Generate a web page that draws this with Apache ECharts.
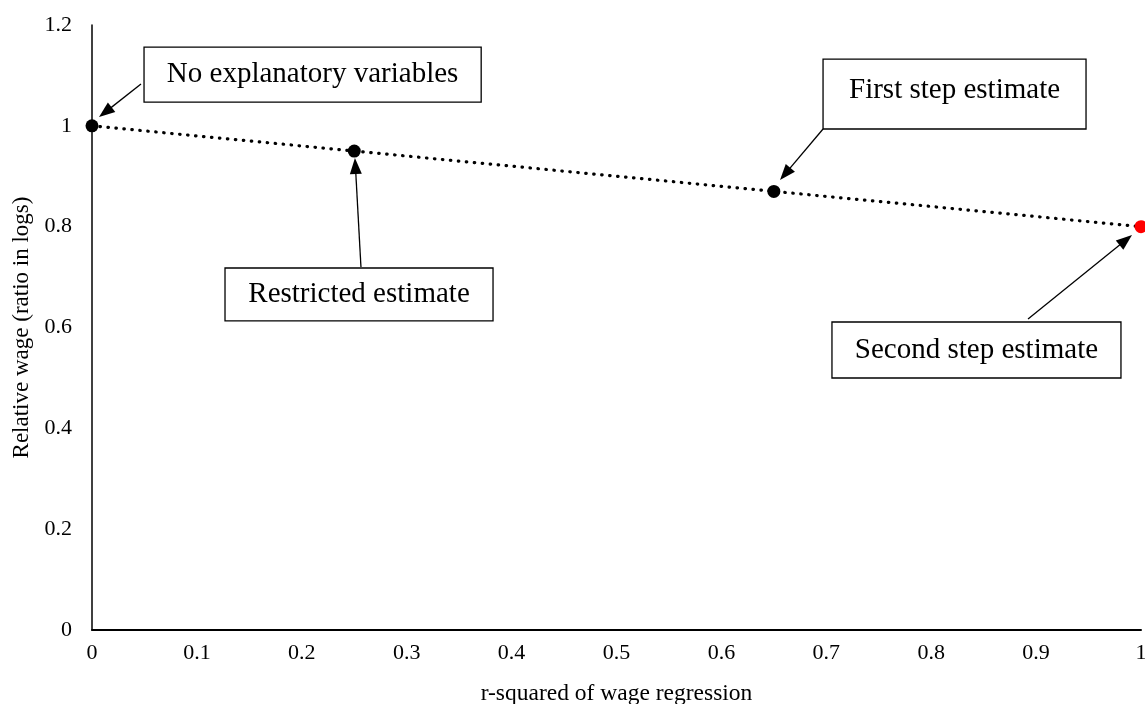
<!DOCTYPE html>
<html>
<head>
<meta charset="utf-8">
<script src="https://cdn.jsdelivr.net/npm/echarts@6/dist/echarts.min.js"></script>
<style>
  html, body { margin: 0; padding: 0; background: #fff; }
  #chart { width: 1145px; height: 704px; }
</style>
</head>
<body>
<div id="chart"></div>
<script>
// data
var rSquared = [0, 0.25, 0.65, 1];
var relWage = [1, 0.95, 0.87, 0.8];
var pointColors = ['#000000', '#000000', '#000000', '#ff0000'];
var noteTexts = ['No explanatory variables', 'Restricted estimate', 'First step estimate', 'Second step estimate'];

// where the callouts sit, in axis units
var noteBoxes = [
    [0.0496, 1.156, 0.371, 1.047],
    [0.1268, 0.718, 0.3823, 0.613],
    [0.6969, 1.1325, 0.9476, 0.9937],
    [0.7054, 0.6109, 0.9809, 0.4998]
];
// tail -> centre of the arrow head
var noteArrows = [
    [0.0467, 1.083, 0.0127, 1.0272],
    [0.2564, 0.72, 0.2511, 0.9203],
    [0.6969, 0.9937, 0.6608, 0.9047],
    [0.8923, 0.6168, 0.9855, 0.7735]
];
var noteLabelPos = ['inside', 'inside', 'insideTop', 'inside'];

var serif = 'Liberation Serif';

var points = rSquared.map(function (x, i) {
    return {value: [x, relWage[i]], itemStyle: {color: pointColors[i]}};
});

var areas = noteBoxes.map(function (b, i) {
    return [
        {
            name: noteTexts[i],
            coord: [b[0], b[1]],
            label: {position: noteLabelPos[i], distance: 18}
        },
        {coord: [b[2], b[3]]}
    ];
});

var arrows = noteArrows.map(function (a) {
    return [
        {coord: [a[0], a[1]], symbol: 'none'},
        {coord: [a[2], a[3]], symbol: 'triangle', symbolSize: [12, 16]}
    ];
});

var myChart = echarts.init(document.getElementById('chart'));
var option = {
    backgroundColor: '#fff',
    animation: false,
    grid: {left: 92, right: 4, top: 25, bottom: 74, containLabel: false, outerBoundsMode: 'none'},
    xAxis: {
        type: 'value',
        min: 0, max: 1, interval: 0.1,
        name: 'r-squared of wage regression',
        nameLocation: 'middle',
        nameGap: 52,
        nameTextStyle: {fontFamily: serif, fontSize: 23.5, color: '#000'},
        axisLine: {show: true, lineStyle: {color: '#000', width: 2}},
        axisTick: {show: false},
        splitLine: {show: false},
        axisLabel: {fontFamily: serif, fontSize: 22, color: '#000', margin: 12}
    },
    yAxis: {
        type: 'value',
        min: 0, max: 1.2, interval: 0.2,
        name: 'Relative wage (ratio in logs)',
        nameLocation: 'middle',
        nameGap: 58,
        nameTextStyle: {fontFamily: serif, fontSize: 23, color: '#000'},
        axisLine: {show: true, lineStyle: {color: '#000', width: 1.5}},
        axisTick: {show: false},
        splitLine: {show: false},
        axisLabel: {fontFamily: serif, fontSize: 22, color: '#000', margin: 20}
    },
    series: [
        {
            type: 'line',
            data: points,
            clip: false,
            symbol: 'circle',
            symbolSize: 13,
            lineStyle: {color: '#000', width: 3.2, type: [0.5, 7.5], cap: 'round'},
            z: 3,
            markArea: {
                silent: true,
                itemStyle: {color: '#fff', borderColor: '#000', borderWidth: 1.3},
                label: {
                    show: true,
                    color: '#000',
                    fontFamily: serif,
                    fontSize: 29
                },
                data: areas
            },
            markLine: {
                silent: true,
                animation: false,
                lineStyle: {color: '#000', width: 1.3, type: 'solid'},
                label: {show: false},
                data: arrows
            }
        }
    ]
};
myChart.setOption(option);
</script>
</body>
</html>
